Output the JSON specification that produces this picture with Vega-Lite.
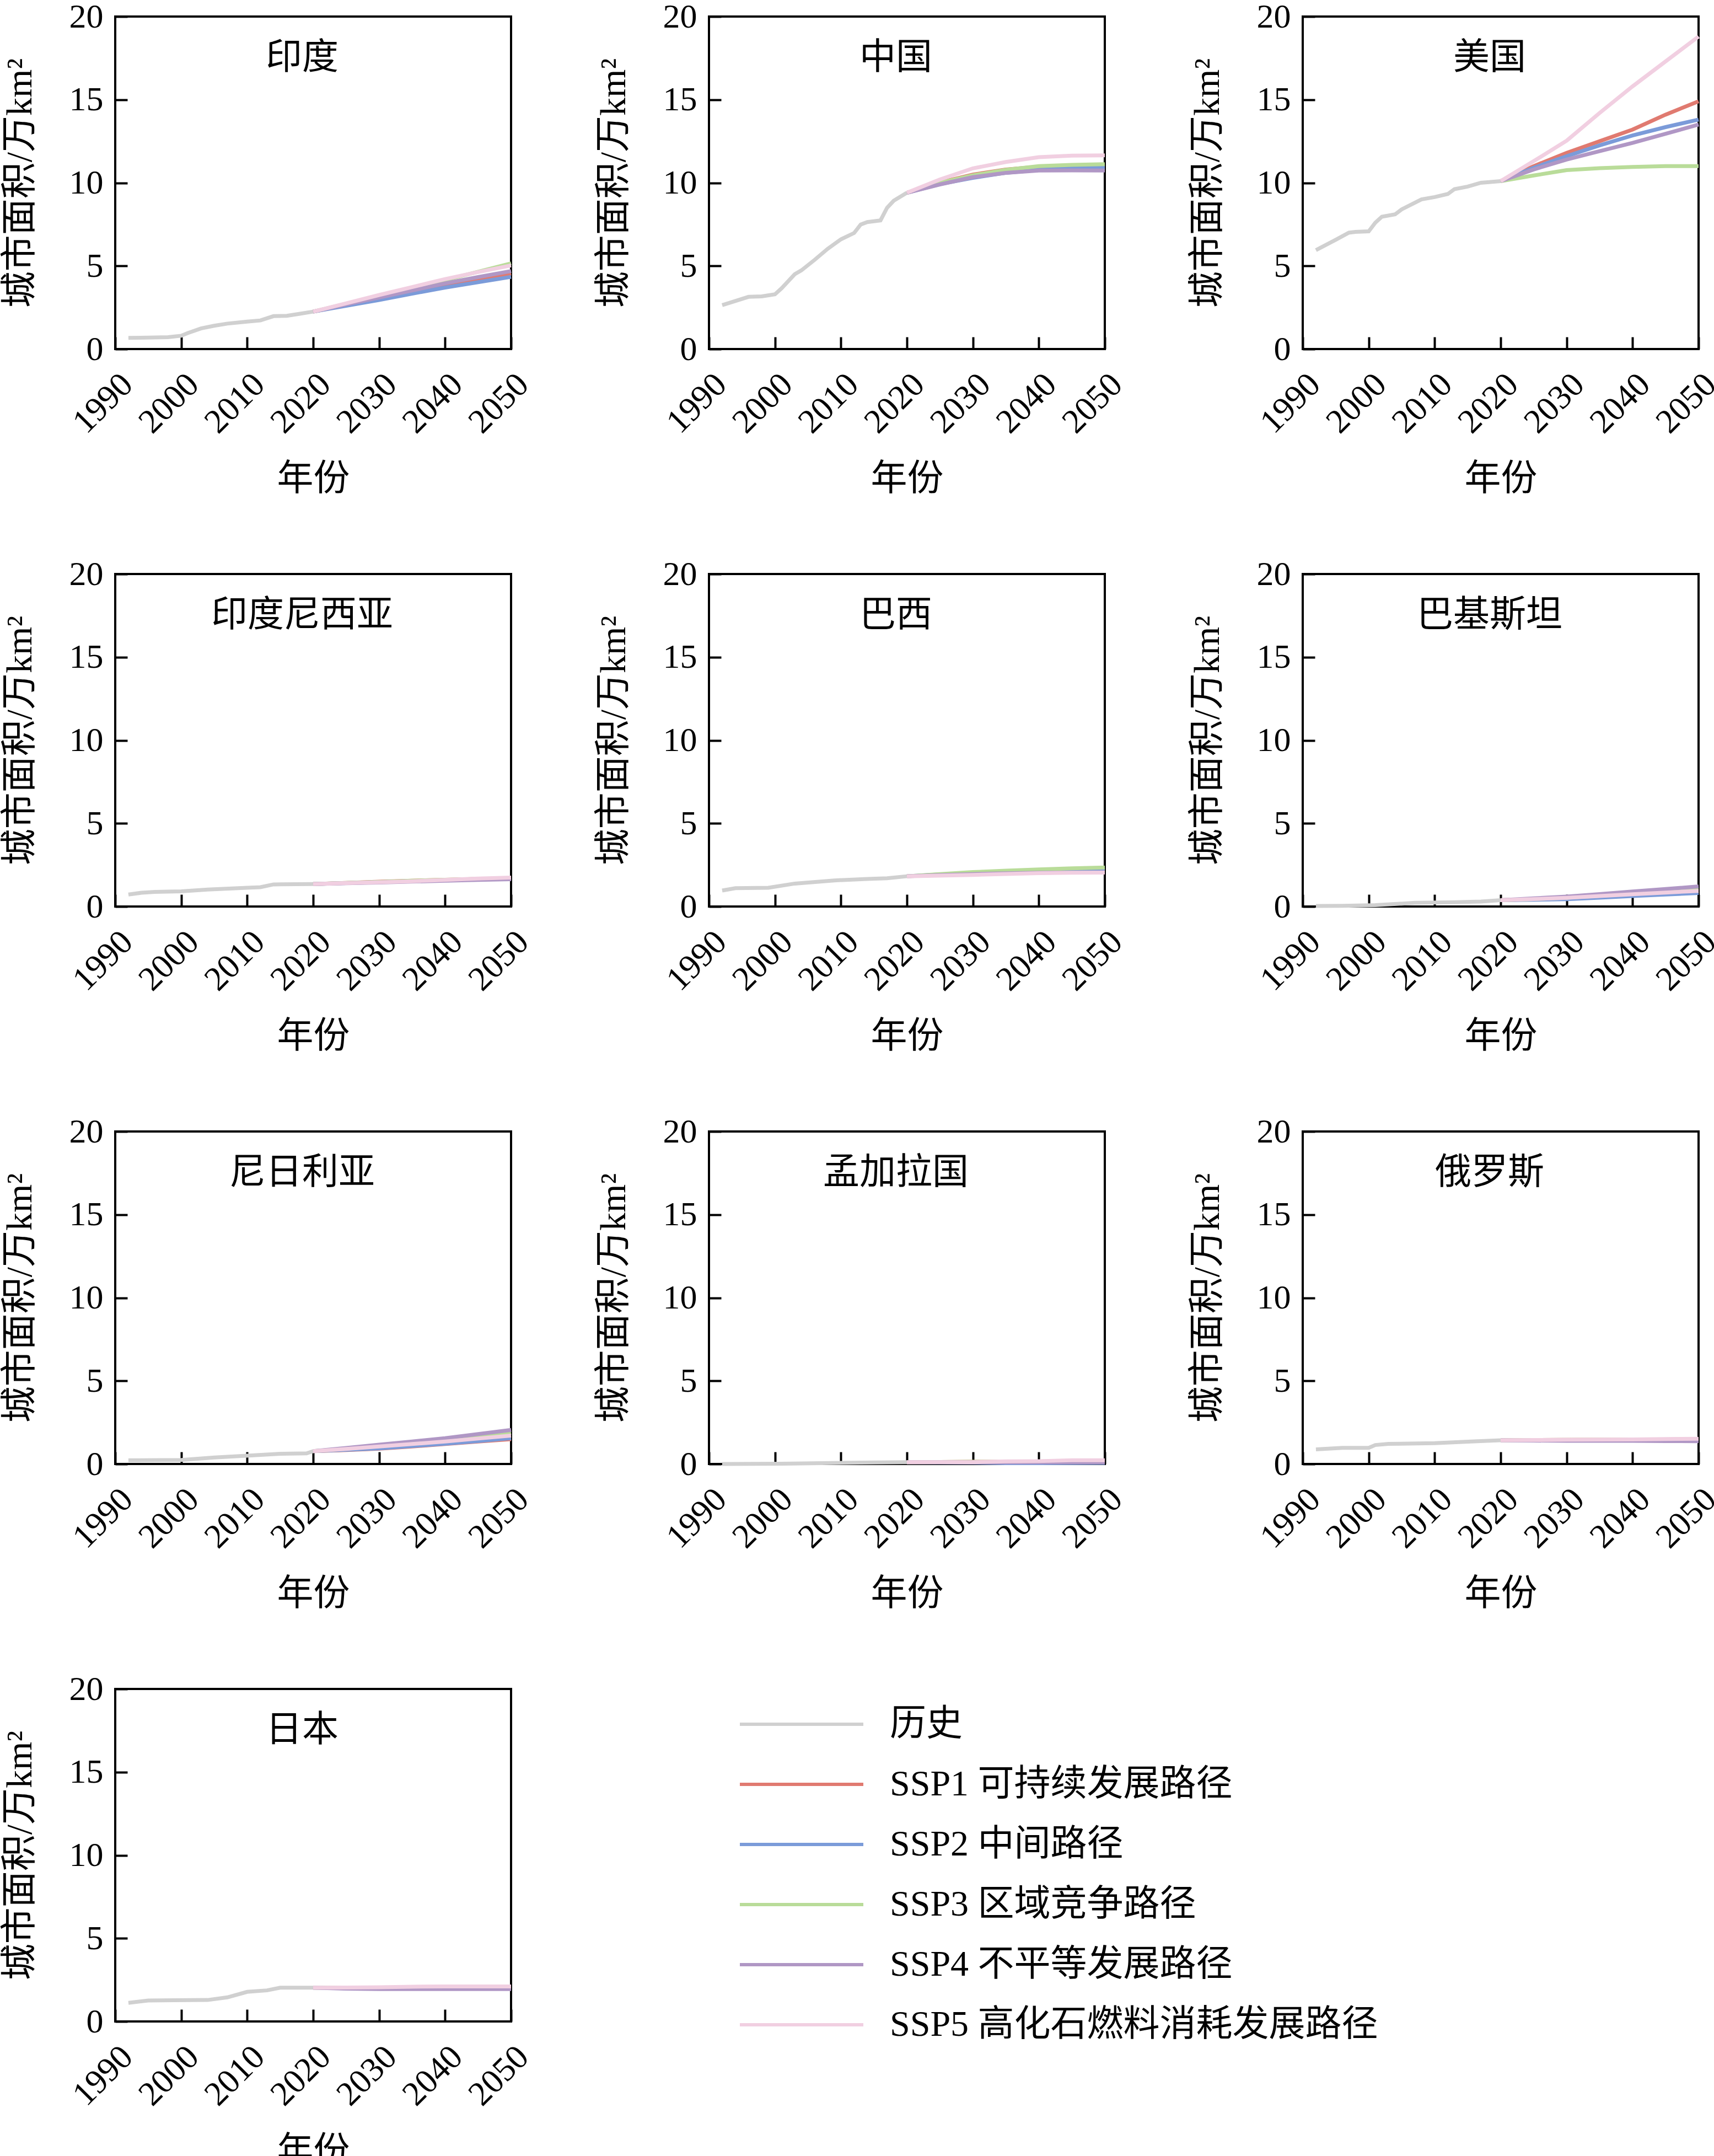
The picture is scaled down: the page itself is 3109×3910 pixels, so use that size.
{
  "$schema": "https://vega.github.io/schema/vega-lite/v6.json",
  "description": "Urban area by country, history and SSP projections",
  "padding": {"left": 1, "top": -3, "right": 5, "bottom": 5},
  "data": {"values": [
    {"country": "印度", "year": 1992, "hist": 0.67},
    {"country": "印度", "year": 1995, "hist": 0.69},
    {"country": "印度", "year": 1998, "hist": 0.71},
    {"country": "印度", "year": 2000, "hist": 0.8},
    {"country": "印度", "year": 2001, "hist": 0.96},
    {"country": "印度", "year": 2003, "hist": 1.24},
    {"country": "印度", "year": 2005, "hist": 1.4},
    {"country": "印度", "year": 2007, "hist": 1.53},
    {"country": "印度", "year": 2010, "hist": 1.65},
    {"country": "印度", "year": 2012, "hist": 1.72},
    {"country": "印度", "year": 2014, "hist": 1.98},
    {"country": "印度", "year": 2016, "hist": 2.0},
    {"country": "印度", "year": 2018, "hist": 2.12},
    {"country": "印度", "year": 2020, "hist": 2.25, "ssp1": 2.25, "ssp2": 2.25, "ssp3": 2.25, "ssp4": 2.25, "ssp5": 2.25},
    {"country": "印度", "year": 2025, "ssp1": 2.65, "ssp2": 2.6, "ssp3": 2.72, "ssp4": 2.68, "ssp5": 2.75},
    {"country": "印度", "year": 2030, "ssp1": 3.05, "ssp2": 2.95, "ssp3": 3.2, "ssp4": 3.1, "ssp5": 3.25},
    {"country": "印度", "year": 2035, "ssp1": 3.45, "ssp2": 3.33, "ssp3": 3.68, "ssp4": 3.52, "ssp5": 3.73},
    {"country": "印度", "year": 2040, "ssp1": 3.85, "ssp2": 3.7, "ssp3": 4.15, "ssp4": 3.95, "ssp5": 4.21},
    {"country": "印度", "year": 2045, "ssp1": 4.2, "ssp2": 4.02, "ssp3": 4.65, "ssp4": 4.33, "ssp5": 4.63},
    {"country": "印度", "year": 2050, "ssp1": 4.54, "ssp2": 4.34, "ssp3": 5.15, "ssp4": 4.69, "ssp5": 5.03},

    {"country": "中国", "year": 1992, "hist": 2.64},
    {"country": "中国", "year": 1994, "hist": 2.89},
    {"country": "中国", "year": 1996, "hist": 3.14},
    {"country": "中国", "year": 1998, "hist": 3.17},
    {"country": "中国", "year": 2000, "hist": 3.29},
    {"country": "中国", "year": 2001, "hist": 3.65},
    {"country": "中国", "year": 2003, "hist": 4.5},
    {"country": "中国", "year": 2004, "hist": 4.73},
    {"country": "中国", "year": 2006, "hist": 5.36},
    {"country": "中国", "year": 2008, "hist": 6.03},
    {"country": "中国", "year": 2010, "hist": 6.6},
    {"country": "中国", "year": 2012, "hist": 6.98},
    {"country": "中国", "year": 2013, "hist": 7.49},
    {"country": "中国", "year": 2014, "hist": 7.64},
    {"country": "中国", "year": 2016, "hist": 7.74},
    {"country": "中国", "year": 2017, "hist": 8.5},
    {"country": "中国", "year": 2018, "hist": 8.92},
    {"country": "中国", "year": 2020, "hist": 9.4, "ssp1": 9.4, "ssp2": 9.4, "ssp3": 9.4, "ssp4": 9.4, "ssp5": 9.4},
    {"country": "中国", "year": 2025, "ssp1": 10.02, "ssp2": 9.92, "ssp3": 10.0, "ssp4": 9.9, "ssp5": 10.2},
    {"country": "中国", "year": 2030, "ssp1": 10.49, "ssp2": 10.3, "ssp3": 10.45, "ssp4": 10.34, "ssp5": 10.87},
    {"country": "中国", "year": 2035, "ssp1": 10.8, "ssp2": 10.6, "ssp3": 10.78, "ssp4": 10.6, "ssp5": 11.25},
    {"country": "中国", "year": 2040, "ssp1": 10.97, "ssp2": 10.78, "ssp3": 11.0, "ssp4": 10.74, "ssp5": 11.54},
    {"country": "中国", "year": 2045, "ssp1": 11.0, "ssp2": 10.87, "ssp3": 11.08, "ssp4": 10.75, "ssp5": 11.63},
    {"country": "中国", "year": 2050, "ssp1": 11.0, "ssp2": 10.91, "ssp3": 11.12, "ssp4": 10.74, "ssp5": 11.65},

    {"country": "美国", "year": 1992, "hist": 5.95},
    {"country": "美国", "year": 1995, "hist": 6.57},
    {"country": "美国", "year": 1997, "hist": 7.0},
    {"country": "美国", "year": 1998, "hist": 7.05},
    {"country": "美国", "year": 2000, "hist": 7.08},
    {"country": "美国", "year": 2001, "hist": 7.6},
    {"country": "美国", "year": 2002, "hist": 7.96},
    {"country": "美国", "year": 2004, "hist": 8.1},
    {"country": "美国", "year": 2005, "hist": 8.4},
    {"country": "美国", "year": 2007, "hist": 8.8},
    {"country": "美国", "year": 2008, "hist": 9.0},
    {"country": "美国", "year": 2010, "hist": 9.14},
    {"country": "美国", "year": 2012, "hist": 9.33},
    {"country": "美国", "year": 2013, "hist": 9.62},
    {"country": "美国", "year": 2015, "hist": 9.77},
    {"country": "美国", "year": 2017, "hist": 10.0},
    {"country": "美国", "year": 2020, "hist": 10.1, "ssp1": 10.1, "ssp2": 10.1, "ssp3": 10.1, "ssp4": 10.1, "ssp5": 10.1},
    {"country": "美国", "year": 2025, "ssp1": 11.0, "ssp2": 10.9, "ssp3": 10.44, "ssp4": 10.8, "ssp5": 11.3},
    {"country": "美国", "year": 2030, "ssp1": 11.8, "ssp2": 11.6, "ssp3": 10.76, "ssp4": 11.4, "ssp5": 12.53},
    {"country": "美国", "year": 2035, "ssp1": 12.5, "ssp2": 12.25, "ssp3": 10.88, "ssp4": 11.9, "ssp5": 14.2},
    {"country": "美国", "year": 2040, "ssp1": 13.2, "ssp2": 12.85, "ssp3": 10.95, "ssp4": 12.4, "ssp5": 15.8},
    {"country": "美国", "year": 2045, "ssp1": 14.1, "ssp2": 13.35, "ssp3": 11.0, "ssp4": 12.95, "ssp5": 17.3},
    {"country": "美国", "year": 2050, "ssp1": 14.9, "ssp2": 13.8, "ssp3": 11.0, "ssp4": 13.5, "ssp5": 18.8},

    {"country": "印度尼西亚", "year": 1992, "hist": 0.72},
    {"country": "印度尼西亚", "year": 1994, "hist": 0.83},
    {"country": "印度尼西亚", "year": 1996, "hist": 0.88},
    {"country": "印度尼西亚", "year": 2000, "hist": 0.91},
    {"country": "印度尼西亚", "year": 2004, "hist": 1.02},
    {"country": "印度尼西亚", "year": 2010, "hist": 1.13},
    {"country": "印度尼西亚", "year": 2012, "hist": 1.16},
    {"country": "印度尼西亚", "year": 2014, "hist": 1.33},
    {"country": "印度尼西亚", "year": 2020, "hist": 1.35, "ssp1": 1.35, "ssp2": 1.35, "ssp3": 1.35, "ssp4": 1.35, "ssp5": 1.35},
    {"country": "印度尼西亚", "year": 2025, "ssp1": 1.42, "ssp2": 1.41, "ssp3": 1.42, "ssp4": 1.4, "ssp5": 1.41},
    {"country": "印度尼西亚", "year": 2030, "ssp1": 1.49, "ssp2": 1.47, "ssp3": 1.48, "ssp4": 1.44, "ssp5": 1.46},
    {"country": "印度尼西亚", "year": 2035, "ssp1": 1.55, "ssp2": 1.53, "ssp3": 1.55, "ssp4": 1.5, "ssp5": 1.52},
    {"country": "印度尼西亚", "year": 2040, "ssp1": 1.61, "ssp2": 1.58, "ssp3": 1.61, "ssp4": 1.55, "ssp5": 1.6},
    {"country": "印度尼西亚", "year": 2045, "ssp1": 1.66, "ssp2": 1.63, "ssp3": 1.66, "ssp4": 1.6, "ssp5": 1.68},
    {"country": "印度尼西亚", "year": 2050, "ssp1": 1.7, "ssp2": 1.67, "ssp3": 1.71, "ssp4": 1.64, "ssp5": 1.74},

    {"country": "巴西", "year": 1992, "hist": 0.96},
    {"country": "巴西", "year": 1994, "hist": 1.1},
    {"country": "巴西", "year": 1999, "hist": 1.13},
    {"country": "巴西", "year": 2003, "hist": 1.38},
    {"country": "巴西", "year": 2009, "hist": 1.57},
    {"country": "巴西", "year": 2014, "hist": 1.66},
    {"country": "巴西", "year": 2017, "hist": 1.7},
    {"country": "巴西", "year": 2020, "hist": 1.82, "ssp1": 1.82, "ssp2": 1.82, "ssp3": 1.82, "ssp4": 1.82, "ssp5": 1.82},
    {"country": "巴西", "year": 2025, "ssp1": 1.9, "ssp2": 1.93, "ssp3": 1.95, "ssp4": 1.89, "ssp5": 1.86},
    {"country": "巴西", "year": 2030, "ssp1": 1.97, "ssp2": 2.01, "ssp3": 2.07, "ssp4": 1.95, "ssp5": 1.9},
    {"country": "巴西", "year": 2035, "ssp1": 2.03, "ssp2": 2.08, "ssp3": 2.16, "ssp4": 2.0, "ssp5": 1.96},
    {"country": "巴西", "year": 2040, "ssp1": 2.08, "ssp2": 2.13, "ssp3": 2.23, "ssp4": 2.03, "ssp5": 2.01},
    {"country": "巴西", "year": 2045, "ssp1": 2.11, "ssp2": 2.16, "ssp3": 2.3, "ssp4": 2.05, "ssp5": 2.03},
    {"country": "巴西", "year": 2050, "ssp1": 2.12, "ssp2": 2.18, "ssp3": 2.35, "ssp4": 2.06, "ssp5": 2.04},

    {"country": "巴基斯坦", "year": 1992, "hist": 0.03},
    {"country": "巴基斯坦", "year": 1996, "hist": 0.04},
    {"country": "巴基斯坦", "year": 2001, "hist": 0.08},
    {"country": "巴基斯坦", "year": 2007, "hist": 0.22},
    {"country": "巴基斯坦", "year": 2013, "hist": 0.26},
    {"country": "巴基斯坦", "year": 2017, "hist": 0.3},
    {"country": "巴基斯坦", "year": 2020, "hist": 0.38, "ssp1": 0.38, "ssp2": 0.38, "ssp3": 0.38, "ssp4": 0.38, "ssp5": 0.38},
    {"country": "巴基斯坦", "year": 2025, "ssp1": 0.44, "ssp2": 0.41, "ssp3": 0.45, "ssp4": 0.49, "ssp5": 0.45},
    {"country": "巴基斯坦", "year": 2030, "ssp1": 0.5, "ssp2": 0.44, "ssp3": 0.53, "ssp4": 0.6, "ssp5": 0.52},
    {"country": "巴基斯坦", "year": 2035, "ssp1": 0.6, "ssp2": 0.53, "ssp3": 0.65, "ssp4": 0.75, "ssp5": 0.63},
    {"country": "巴基斯坦", "year": 2040, "ssp1": 0.7, "ssp2": 0.63, "ssp3": 0.76, "ssp4": 0.9, "ssp5": 0.74},
    {"country": "巴基斯坦", "year": 2045, "ssp1": 0.8, "ssp2": 0.72, "ssp3": 0.92, "ssp4": 1.05, "ssp5": 0.84},
    {"country": "巴基斯坦", "year": 2050, "ssp1": 0.9, "ssp2": 0.81, "ssp3": 1.07, "ssp4": 1.21, "ssp5": 0.94},

    {"country": "尼日利亚", "year": 1992, "hist": 0.22},
    {"country": "尼日利亚", "year": 2000, "hist": 0.24},
    {"country": "尼日利亚", "year": 2005, "hist": 0.39},
    {"country": "尼日利亚", "year": 2011, "hist": 0.52},
    {"country": "尼日利亚", "year": 2015, "hist": 0.61},
    {"country": "尼日利亚", "year": 2019, "hist": 0.64},
    {"country": "尼日利亚", "year": 2020, "hist": 0.77, "ssp1": 0.77, "ssp2": 0.77, "ssp3": 0.77, "ssp4": 0.77, "ssp5": 0.77},
    {"country": "尼日利亚", "year": 2025, "ssp1": 0.84, "ssp2": 0.85, "ssp3": 0.92, "ssp4": 0.96, "ssp5": 0.9},
    {"country": "尼日利亚", "year": 2030, "ssp1": 0.92, "ssp2": 0.94, "ssp3": 1.08, "ssp4": 1.16, "ssp5": 1.05},
    {"country": "尼日利亚", "year": 2035, "ssp1": 1.05, "ssp2": 1.08, "ssp3": 1.25, "ssp4": 1.35, "ssp5": 1.2},
    {"country": "尼日利亚", "year": 2040, "ssp1": 1.2, "ssp2": 1.22, "ssp3": 1.43, "ssp4": 1.55, "ssp5": 1.35},
    {"country": "尼日利亚", "year": 2045, "ssp1": 1.35, "ssp2": 1.38, "ssp3": 1.64, "ssp4": 1.8, "ssp5": 1.53},
    {"country": "尼日利亚", "year": 2050, "ssp1": 1.49, "ssp2": 1.55, "ssp3": 1.86, "ssp4": 2.05, "ssp5": 1.71},

    {"country": "孟加拉国", "year": 1992, "hist": 0.0},
    {"country": "孟加拉国", "year": 2001, "hist": 0.02},
    {"country": "孟加拉国", "year": 2013, "hist": 0.08},
    {"country": "孟加拉国", "year": 2020, "hist": 0.11, "ssp1": 0.11, "ssp2": 0.11, "ssp3": 0.11, "ssp4": 0.11, "ssp5": 0.11},
    {"country": "孟加拉国", "year": 2025, "ssp1": 0.12, "ssp2": 0.1, "ssp3": 0.12, "ssp4": 0.11, "ssp5": 0.11},
    {"country": "孟加拉国", "year": 2030, "ssp1": 0.13, "ssp2": 0.08, "ssp3": 0.13, "ssp4": 0.1, "ssp5": 0.11},
    {"country": "孟加拉国", "year": 2035, "ssp1": 0.14, "ssp2": 0.05, "ssp3": 0.14, "ssp4": 0.1, "ssp5": 0.16},
    {"country": "孟加拉国", "year": 2040, "ssp1": 0.15, "ssp2": 0.05, "ssp3": 0.15, "ssp4": 0.1, "ssp5": 0.17},
    {"country": "孟加拉国", "year": 2045, "ssp1": 0.16, "ssp2": 0.06, "ssp3": 0.17, "ssp4": 0.1, "ssp5": 0.22},
    {"country": "孟加拉国", "year": 2050, "ssp1": 0.17, "ssp2": 0.07, "ssp3": 0.18, "ssp4": 0.1, "ssp5": 0.22},

    {"country": "俄罗斯", "year": 1992, "hist": 0.88},
    {"country": "俄罗斯", "year": 1996, "hist": 0.97},
    {"country": "俄罗斯", "year": 2000, "hist": 0.97},
    {"country": "俄罗斯", "year": 2001, "hist": 1.14},
    {"country": "俄罗斯", "year": 2003, "hist": 1.21},
    {"country": "俄罗斯", "year": 2010, "hist": 1.25},
    {"country": "俄罗斯", "year": 2016, "hist": 1.36},
    {"country": "俄罗斯", "year": 2020, "hist": 1.43, "ssp1": 1.43, "ssp2": 1.43, "ssp3": 1.43, "ssp4": 1.43, "ssp5": 1.43},
    {"country": "俄罗斯", "year": 2025, "ssp1": 1.44, "ssp2": 1.43, "ssp3": 1.44, "ssp4": 1.41, "ssp5": 1.44},
    {"country": "俄罗斯", "year": 2030, "ssp1": 1.45, "ssp2": 1.43, "ssp3": 1.45, "ssp4": 1.39, "ssp5": 1.46},
    {"country": "俄罗斯", "year": 2035, "ssp1": 1.46, "ssp2": 1.44, "ssp3": 1.46, "ssp4": 1.39, "ssp5": 1.47},
    {"country": "俄罗斯", "year": 2040, "ssp1": 1.47, "ssp2": 1.44, "ssp3": 1.47, "ssp4": 1.39, "ssp5": 1.48},
    {"country": "俄罗斯", "year": 2045, "ssp1": 1.48, "ssp2": 1.45, "ssp3": 1.48, "ssp4": 1.38, "ssp5": 1.5},
    {"country": "俄罗斯", "year": 2050, "ssp1": 1.49, "ssp2": 1.45, "ssp3": 1.48, "ssp4": 1.37, "ssp5": 1.52},

    {"country": "日本", "year": 1992, "hist": 1.12},
    {"country": "日本", "year": 1995, "hist": 1.26},
    {"country": "日本", "year": 1999, "hist": 1.28},
    {"country": "日本", "year": 2004, "hist": 1.29},
    {"country": "日本", "year": 2007, "hist": 1.45},
    {"country": "日本", "year": 2010, "hist": 1.78},
    {"country": "日本", "year": 2013, "hist": 1.87},
    {"country": "日本", "year": 2015, "hist": 2.03},
    {"country": "日本", "year": 2020, "hist": 2.03, "ssp1": 2.03, "ssp2": 2.03, "ssp3": 2.03, "ssp4": 2.03, "ssp5": 2.03},
    {"country": "日本", "year": 2025, "ssp1": 2.02, "ssp2": 2.0, "ssp3": 2.03, "ssp4": 1.97, "ssp5": 2.04},
    {"country": "日本", "year": 2030, "ssp1": 2.02, "ssp2": 1.98, "ssp3": 2.04, "ssp4": 1.95, "ssp5": 2.06},
    {"country": "日本", "year": 2035, "ssp1": 2.03, "ssp2": 1.98, "ssp3": 2.05, "ssp4": 1.95, "ssp5": 2.09},
    {"country": "日本", "year": 2040, "ssp1": 2.03, "ssp2": 1.98, "ssp3": 2.06, "ssp4": 1.95, "ssp5": 2.11},
    {"country": "日本", "year": 2045, "ssp1": 2.03, "ssp2": 1.98, "ssp3": 2.06, "ssp4": 1.95, "ssp5": 2.11},
    {"country": "日本", "year": 2050, "ssp1": 2.03, "ssp2": 1.98, "ssp3": 2.06, "ssp4": 1.95, "ssp5": 2.11}
  ]},
  "transform": [
    {"fold": ["hist", "ssp1", "ssp2", "ssp3", "ssp4", "ssp5"], "as": ["series", "area"]},
    {"filter": "isValid(datum.area)"}
  ],
  "columns": 3,
  "bounds": "flush",
  "spacing": {"row": 408, "column": 359},
  "concat": [
    {"title": "印度", "width": 718, "height": 603, "transform": [{"filter": "datum.country == '印度'"}], "mark": {"type": "line", "strokeWidth": 7},
     "encoding": {"x": {"field": "year", "type": "quantitative", "scale": {"domain": [1990, 2050], "nice": false}, "axis": {"values": [1990, 2000, 2010, 2020, 2030, 2040, 2050], "format": "d"}, "title": "年份"}, "y": {"field": "area", "type": "quantitative", "scale": {"domain": [0, 20]}, "axis": {"values": [0, 5, 10, 15, 20]}, "title": "城市面积/万km²"}, "color": {"field": "series", "type": "nominal", "scale": {"domain": ["hist", "ssp1", "ssp2", "ssp3", "ssp4", "ssp5"], "range": ["#d0d0d0", "#e07a70", "#7b9bd9", "#b9dc99", "#b097c5", "#f1cfe1"]}, "legend": {"title": null, "labelExpr": "datum.value == 'hist' ? '历史' : datum.value == 'ssp1' ? 'SSP1 可持续发展路径' : datum.value == 'ssp2' ? 'SSP2 中间路径' : datum.value == 'ssp3' ? 'SSP3 区域竞争路径' : datum.value == 'ssp4' ? 'SSP4 不平等发展路径' : 'SSP5 高化石燃料消耗发展路径'"}}}},
    {"title": "中国", "width": 718, "height": 603, "transform": [{"filter": "datum.country == '中国'"}], "mark": {"type": "line", "strokeWidth": 7},
     "encoding": {"x": {"field": "year", "type": "quantitative", "scale": {"domain": [1990, 2050], "nice": false}, "axis": {"values": [1990, 2000, 2010, 2020, 2030, 2040, 2050], "format": "d"}, "title": "年份"}, "y": {"field": "area", "type": "quantitative", "scale": {"domain": [0, 20]}, "axis": {"values": [0, 5, 10, 15, 20]}, "title": "城市面积/万km²"}, "color": {"field": "series", "type": "nominal", "scale": {"domain": ["hist", "ssp1", "ssp2", "ssp3", "ssp4", "ssp5"], "range": ["#d0d0d0", "#e07a70", "#7b9bd9", "#b9dc99", "#b097c5", "#f1cfe1"]}, "legend": {"title": null, "labelExpr": "datum.value == 'hist' ? '历史' : datum.value == 'ssp1' ? 'SSP1 可持续发展路径' : datum.value == 'ssp2' ? 'SSP2 中间路径' : datum.value == 'ssp3' ? 'SSP3 区域竞争路径' : datum.value == 'ssp4' ? 'SSP4 不平等发展路径' : 'SSP5 高化石燃料消耗发展路径'"}}}},
    {"title": "美国", "width": 718, "height": 603, "transform": [{"filter": "datum.country == '美国'"}], "mark": {"type": "line", "strokeWidth": 7},
     "encoding": {"x": {"field": "year", "type": "quantitative", "scale": {"domain": [1990, 2050], "nice": false}, "axis": {"values": [1990, 2000, 2010, 2020, 2030, 2040, 2050], "format": "d"}, "title": "年份"}, "y": {"field": "area", "type": "quantitative", "scale": {"domain": [0, 20]}, "axis": {"values": [0, 5, 10, 15, 20]}, "title": "城市面积/万km²"}, "color": {"field": "series", "type": "nominal", "scale": {"domain": ["hist", "ssp1", "ssp2", "ssp3", "ssp4", "ssp5"], "range": ["#d0d0d0", "#e07a70", "#7b9bd9", "#b9dc99", "#b097c5", "#f1cfe1"]}, "legend": {"title": null, "labelExpr": "datum.value == 'hist' ? '历史' : datum.value == 'ssp1' ? 'SSP1 可持续发展路径' : datum.value == 'ssp2' ? 'SSP2 中间路径' : datum.value == 'ssp3' ? 'SSP3 区域竞争路径' : datum.value == 'ssp4' ? 'SSP4 不平等发展路径' : 'SSP5 高化石燃料消耗发展路径'"}}}},
    {"title": "印度尼西亚", "width": 718, "height": 603, "transform": [{"filter": "datum.country == '印度尼西亚'"}], "mark": {"type": "line", "strokeWidth": 7},
     "encoding": {"x": {"field": "year", "type": "quantitative", "scale": {"domain": [1990, 2050], "nice": false}, "axis": {"values": [1990, 2000, 2010, 2020, 2030, 2040, 2050], "format": "d"}, "title": "年份"}, "y": {"field": "area", "type": "quantitative", "scale": {"domain": [0, 20]}, "axis": {"values": [0, 5, 10, 15, 20]}, "title": "城市面积/万km²"}, "color": {"field": "series", "type": "nominal", "scale": {"domain": ["hist", "ssp1", "ssp2", "ssp3", "ssp4", "ssp5"], "range": ["#d0d0d0", "#e07a70", "#7b9bd9", "#b9dc99", "#b097c5", "#f1cfe1"]}, "legend": {"title": null, "labelExpr": "datum.value == 'hist' ? '历史' : datum.value == 'ssp1' ? 'SSP1 可持续发展路径' : datum.value == 'ssp2' ? 'SSP2 中间路径' : datum.value == 'ssp3' ? 'SSP3 区域竞争路径' : datum.value == 'ssp4' ? 'SSP4 不平等发展路径' : 'SSP5 高化石燃料消耗发展路径'"}}}},
    {"title": "巴西", "width": 718, "height": 603, "transform": [{"filter": "datum.country == '巴西'"}], "mark": {"type": "line", "strokeWidth": 7},
     "encoding": {"x": {"field": "year", "type": "quantitative", "scale": {"domain": [1990, 2050], "nice": false}, "axis": {"values": [1990, 2000, 2010, 2020, 2030, 2040, 2050], "format": "d"}, "title": "年份"}, "y": {"field": "area", "type": "quantitative", "scale": {"domain": [0, 20]}, "axis": {"values": [0, 5, 10, 15, 20]}, "title": "城市面积/万km²"}, "color": {"field": "series", "type": "nominal", "scale": {"domain": ["hist", "ssp1", "ssp2", "ssp3", "ssp4", "ssp5"], "range": ["#d0d0d0", "#e07a70", "#7b9bd9", "#b9dc99", "#b097c5", "#f1cfe1"]}, "legend": {"title": null, "labelExpr": "datum.value == 'hist' ? '历史' : datum.value == 'ssp1' ? 'SSP1 可持续发展路径' : datum.value == 'ssp2' ? 'SSP2 中间路径' : datum.value == 'ssp3' ? 'SSP3 区域竞争路径' : datum.value == 'ssp4' ? 'SSP4 不平等发展路径' : 'SSP5 高化石燃料消耗发展路径'"}}}},
    {"title": "巴基斯坦", "width": 718, "height": 603, "transform": [{"filter": "datum.country == '巴基斯坦'"}], "mark": {"type": "line", "strokeWidth": 7},
     "encoding": {"x": {"field": "year", "type": "quantitative", "scale": {"domain": [1990, 2050], "nice": false}, "axis": {"values": [1990, 2000, 2010, 2020, 2030, 2040, 2050], "format": "d"}, "title": "年份"}, "y": {"field": "area", "type": "quantitative", "scale": {"domain": [0, 20]}, "axis": {"values": [0, 5, 10, 15, 20]}, "title": "城市面积/万km²"}, "color": {"field": "series", "type": "nominal", "scale": {"domain": ["hist", "ssp1", "ssp2", "ssp3", "ssp4", "ssp5"], "range": ["#d0d0d0", "#e07a70", "#7b9bd9", "#b9dc99", "#b097c5", "#f1cfe1"]}, "legend": {"title": null, "labelExpr": "datum.value == 'hist' ? '历史' : datum.value == 'ssp1' ? 'SSP1 可持续发展路径' : datum.value == 'ssp2' ? 'SSP2 中间路径' : datum.value == 'ssp3' ? 'SSP3 区域竞争路径' : datum.value == 'ssp4' ? 'SSP4 不平等发展路径' : 'SSP5 高化石燃料消耗发展路径'"}}}},
    {"title": "尼日利亚", "width": 718, "height": 603, "transform": [{"filter": "datum.country == '尼日利亚'"}], "mark": {"type": "line", "strokeWidth": 7},
     "encoding": {"x": {"field": "year", "type": "quantitative", "scale": {"domain": [1990, 2050], "nice": false}, "axis": {"values": [1990, 2000, 2010, 2020, 2030, 2040, 2050], "format": "d"}, "title": "年份"}, "y": {"field": "area", "type": "quantitative", "scale": {"domain": [0, 20]}, "axis": {"values": [0, 5, 10, 15, 20]}, "title": "城市面积/万km²"}, "color": {"field": "series", "type": "nominal", "scale": {"domain": ["hist", "ssp1", "ssp2", "ssp3", "ssp4", "ssp5"], "range": ["#d0d0d0", "#e07a70", "#7b9bd9", "#b9dc99", "#b097c5", "#f1cfe1"]}, "legend": {"title": null, "labelExpr": "datum.value == 'hist' ? '历史' : datum.value == 'ssp1' ? 'SSP1 可持续发展路径' : datum.value == 'ssp2' ? 'SSP2 中间路径' : datum.value == 'ssp3' ? 'SSP3 区域竞争路径' : datum.value == 'ssp4' ? 'SSP4 不平等发展路径' : 'SSP5 高化石燃料消耗发展路径'"}}}},
    {"title": "孟加拉国", "width": 718, "height": 603, "transform": [{"filter": "datum.country == '孟加拉国'"}], "mark": {"type": "line", "strokeWidth": 7},
     "encoding": {"x": {"field": "year", "type": "quantitative", "scale": {"domain": [1990, 2050], "nice": false}, "axis": {"values": [1990, 2000, 2010, 2020, 2030, 2040, 2050], "format": "d"}, "title": "年份"}, "y": {"field": "area", "type": "quantitative", "scale": {"domain": [0, 20]}, "axis": {"values": [0, 5, 10, 15, 20]}, "title": "城市面积/万km²"}, "color": {"field": "series", "type": "nominal", "scale": {"domain": ["hist", "ssp1", "ssp2", "ssp3", "ssp4", "ssp5"], "range": ["#d0d0d0", "#e07a70", "#7b9bd9", "#b9dc99", "#b097c5", "#f1cfe1"]}, "legend": {"title": null, "labelExpr": "datum.value == 'hist' ? '历史' : datum.value == 'ssp1' ? 'SSP1 可持续发展路径' : datum.value == 'ssp2' ? 'SSP2 中间路径' : datum.value == 'ssp3' ? 'SSP3 区域竞争路径' : datum.value == 'ssp4' ? 'SSP4 不平等发展路径' : 'SSP5 高化石燃料消耗发展路径'"}}}},
    {"title": "俄罗斯", "width": 718, "height": 603, "transform": [{"filter": "datum.country == '俄罗斯'"}], "mark": {"type": "line", "strokeWidth": 7},
     "encoding": {"x": {"field": "year", "type": "quantitative", "scale": {"domain": [1990, 2050], "nice": false}, "axis": {"values": [1990, 2000, 2010, 2020, 2030, 2040, 2050], "format": "d"}, "title": "年份"}, "y": {"field": "area", "type": "quantitative", "scale": {"domain": [0, 20]}, "axis": {"values": [0, 5, 10, 15, 20]}, "title": "城市面积/万km²"}, "color": {"field": "series", "type": "nominal", "scale": {"domain": ["hist", "ssp1", "ssp2", "ssp3", "ssp4", "ssp5"], "range": ["#d0d0d0", "#e07a70", "#7b9bd9", "#b9dc99", "#b097c5", "#f1cfe1"]}, "legend": {"title": null, "labelExpr": "datum.value == 'hist' ? '历史' : datum.value == 'ssp1' ? 'SSP1 可持续发展路径' : datum.value == 'ssp2' ? 'SSP2 中间路径' : datum.value == 'ssp3' ? 'SSP3 区域竞争路径' : datum.value == 'ssp4' ? 'SSP4 不平等发展路径' : 'SSP5 高化石燃料消耗发展路径'"}}}},
    {"title": "日本", "width": 718, "height": 603, "transform": [{"filter": "datum.country == '日本'"}], "mark": {"type": "line", "strokeWidth": 7},
     "encoding": {"x": {"field": "year", "type": "quantitative", "scale": {"domain": [1990, 2050], "nice": false}, "axis": {"values": [1990, 2000, 2010, 2020, 2030, 2040, 2050], "format": "d"}, "title": "年份"}, "y": {"field": "area", "type": "quantitative", "scale": {"domain": [0, 20]}, "axis": {"values": [0, 5, 10, 15, 20]}, "title": "城市面积/万km²"}, "color": {"field": "series", "type": "nominal", "scale": {"domain": ["hist", "ssp1", "ssp2", "ssp3", "ssp4", "ssp5"], "range": ["#d0d0d0", "#e07a70", "#7b9bd9", "#b9dc99", "#b097c5", "#f1cfe1"]}, "legend": {"title": null, "labelExpr": "datum.value == 'hist' ? '历史' : datum.value == 'ssp1' ? 'SSP1 可持续发展路径' : datum.value == 'ssp2' ? 'SSP2 中间路径' : datum.value == 'ssp3' ? 'SSP3 区域竞争路径' : datum.value == 'ssp4' ? 'SSP4 不平等发展路径' : 'SSP5 高化石燃料消耗发展路径'"}}}}
  ],
  "config": {
    "font": "Liberation Serif, Noto Sans CJK SC",
    "view": {"stroke": "black", "strokeWidth": 4},
    "axis": {
      "domain": false, "grid": false,
      "tickSize": -22, "tickWidth": 4, "tickColor": "black",
      "labelFont": "Liberation Serif, Noto Sans CJK SC", "labelFontSize": 62, "labelColor": "black",
      "labelFlush": false, "labelOverlap": false, "labelBound": false,
      "titleFont": "Liberation Serif, Noto Sans CJK SC", "titleFontSize": 66, "titleFontWeight": "normal", "titleColor": "black"
    },
    "axisX": {"labelAngle": -45, "labelPadding": 55, "titlePadding": 40},
    "axisY": {"labelPadding": 44, "titlePadding": 55},
    "title": {"fontSize": 66, "fontWeight": "normal", "font": "Noto Sans CJK SC", "color": "black", "anchor": "middle", "frame": "group", "offset": -140, "dx": -20},
    "legend": {
      "orient": "none", "legendX": 1130, "legendY": 3062, "direction": "vertical",
      "symbolType": "stroke", "symbolSize": 50176, "symbolStrokeWidth": 6, "symbolOpacity": 1,
      "clipHeight": 70, "rowPadding": 39,
      "labelFont": "Liberation Serif, Noto Sans CJK SC", "labelFontSize": 66, "labelColor": "black", "labelOffset": 45, "labelLimit": 0
    }
  }
}
